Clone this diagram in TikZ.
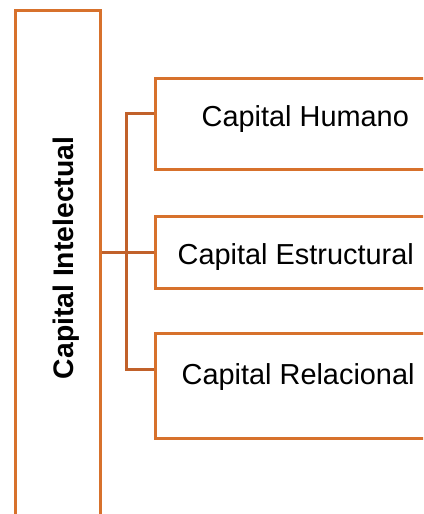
\documentclass[tikz,border=0pt]{standalone}
\usepackage{fontspec}
\setmainfont{Liberation Sans}
\usetikzlibrary{calc}
\definecolor{boxc}{HTML}{D7712C}
\definecolor{linkc}{HTML}{C1612A}
\tikzset{
  frame/.style={draw=boxc, line width=3pt, rectangle, inner sep=0pt, anchor=north west},
  link/.style={draw=linkc, line width=3pt},
  lbl/.style={inner sep=0pt, anchor=base west, font=\fontsize{28.9}{32}\selectfont},
}
\begin{document}
\begin{tikzpicture}[x=1pt,y=1pt]
\useasboundingbox (0,0) rectangle (423,514);
\clip (0,0) rectangle (423,514);
% left tall box (open at bottom, beyond the page)
\node[frame, minimum width=85pt, minimum height=530pt] (ci) at (13.5,504.5) {};
\node[inner sep=0pt, rotate=90, font=\fontsize{28.3}{32}\selectfont\bfseries] (cit) at (66,256) {Capital Intelectual};
% right boxes (cut at right edge)
\node[frame, minimum width=300pt, minimum height=90.5pt] (b1) at (153.5,436.5) {};
\node[frame, minimum width=300pt, minimum height=72pt] (b2) at (153.5,299) {};
\node[frame, minimum width=300pt, minimum height=105.5pt] (b3) at (153.5,182) {};
\node[lbl] (t1) at (201.5,387) {Capital Humano};
\node[lbl] (t2) at (177.5,249) {Capital Estructural};
\node[lbl] (t3) at (181.5,129) {Capital Relacional};
% connectors
\coordinate (j1) at ($(b1.north west)!0.39!(b1.south west)$);
\coordinate (j3) at ($(b3.north west)!0.35!(b3.south west)$);
\draw[link] (ci.east |- b2.west) -- (b2.west);
\draw[link] (j1) -- ++(-27.5,0) coordinate (k1) -- (k1 |- j3) -- (j3);
\end{tikzpicture}
\end{document}
